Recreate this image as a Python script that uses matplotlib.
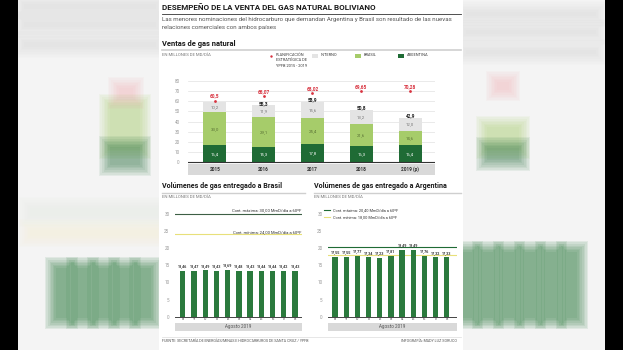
import numpy as np
import matplotlib.pyplot as plt
from matplotlib.patches import Rectangle

W, H = 623, 350

# --- datos ---
years = ['2015', '2016', '2017', '2018', '2019 (p)']
argentina = [16.4, 15.3, 17.8, 16.3, 16.4]
brasil = [33.0, 29.1, 25.4, 21.6, 14.6]
interno = [10.2, 11.9, 15.6, 13.2, 12.0]
totales = [None, 55.3, 58.9, 50.8, 42.9]
planificacion = [60.5, 65.07, 68.02, 69.65, 70.28]

dias = [8, 9, 10, 11, 12, 13, 14, 15, 16, 17, 18]
vol_brasil = [13.46, 13.47, 13.49, 13.43, 13.69, 13.48, 13.43, 13.44, 13.44, 13.42, 13.43]
vol_argentina = [17.55, 17.55, 17.77, 17.34, 17.23, 17.81, 19.49, 19.49, 17.76, 17.32, 17.33]
brasil_max, brasil_min = 30.0, 24.0
arg_max, arg_min = 20.4, 18.0

DARK = '#1f6b35'
LIGHT = '#a6cc6a'
GRAY = '#e4e4e4'
RED = '#d8323f'
BAR = '#2b7a3d'
YELLOW = '#e8e07a'
plt.rcParams['font.family'] = ['Roboto', 'DejaVu Sans']


def coma(v, d=1):
    return f"{v:.{d}f}".replace('.', ',')


def box(x0, y0, x1, y1):
    return [x0 / W, 1 - y1 / H, (x1 - x0) / W, (y1 - y0) / H]


fig = plt.figure(figsize=(W / 100, H / 100), dpi=100)
fig.patch.set_facecolor('#f4f4f4')

# fondo en coordenadas de pixel
bg = fig.add_axes([0, 0, 1, 1])
bg.set_xlim(0, W)
bg.set_ylim(H, 0)
bg.axis('off')


def soft(x, y, w, h, color, a=0.07, n=8, grow=1.6):
    for i in range(n):
        g = grow * (n - i)
        bg.add_patch(Rectangle((x - g + 1.5, y - g + 1.5), max(w + 2 * g - 3, 1),
                               max(h + 2 * g - 3, 1), color=color, alpha=a, lw=0))


# imitacion borrosa de los lados
for xx in [56, 77, 98, 119, 140]:
    soft(xx, 268, 11, 50, BAR, a=0.09)
for xx in [462, 483, 504, 525, 546, 567]:
    soft(xx, 252, 10, 66, BAR, a=0.09)
soft(110, 105, 30, 43, LIGHT)
soft(110, 147, 30, 18, DARK)
soft(487, 127, 32, 21, LIGHT)
soft(487, 148, 32, 12, DARK)
soft(119, 88, 14, 10, '#f2a0a5', a=0.05)
soft(497, 82, 12, 8, '#f2a0a5', a=0.05)
soft(30, 208, 128, 8, '#dfeedd', a=0.05)
soft(30, 230, 128, 6, '#f3f0c8', a=0.05)
for yy in [4, 22, 42]:
    soft(24, yy, 132, 5, '#bbbbbb', a=0.03)
    soft(466, yy + 8, 130, 4, '#bbbbbb', a=0.03)

bg.add_patch(Rectangle((0, 0), 18, H, color='black', lw=0))
bg.add_patch(Rectangle((605, 0), 18, H, color='black', lw=0))
bg.add_patch(Rectangle((159, 0), 304, H, color='white', lw=0))

# titulos y reglas
bg.text(162, 7.5, 'DESEMPEÑO DE LA VENTA DEL GAS NATURAL BOLIVIANO',
        fontsize=5.8, fontweight='bold', color='#1a1a1a', va='center')
bg.plot([162, 461], [13.5, 13.5], color='#333333', lw=0.6)
bg.text(162, 20, 'Las menores nominaciones del hidrocarburo que demandan Argentina y Brasil '
        'son resultado de las nuevas', fontsize=4.4, color='#555555', va='center')
bg.text(162, 28, 'relaciones comerciales con ambos países', fontsize=4.4,
        color='#555555', va='center')
bg.text(162, 44, 'Ventas de gas natural', fontsize=5.4, fontweight='bold',
        color='#1a1a1a', va='center')
bg.plot([162, 461], [49.5, 49.5], color='#cfcfcf', lw=1.2)
bg.text(162, 55, 'EN MILLONES DE MD/DÍA', fontsize=3.1, color='#777777', va='center')

# leyenda superior
bg.scatter([270.5], [55.5], s=3, color=RED, lw=0)
bg.text(275.5, 53, 'PLANIFICACIÓN\nESTRATÉGICA DE\nYPFB 2015 - 2019',
        fontsize=2.8, color='#333333', va='top', linespacing=1.45)
for x0, c, lab in [(312, GRAY, 'INTERNO'), (355, LIGHT, 'BRASIL'), (398, DARK, 'ARGENTINA')]:
    bg.add_patch(Rectangle((x0, 53.5), 6, 4, color=c, lw=0))
    bg.text(x0 + 8.5, 55.5, lab, fontsize=2.8, color='#333333', va='center')

# --- grafico superior ---
ax1 = fig.add_axes(box(188, 78, 435, 176))
ax1.patch.set_alpha(0)
x = np.arange(len(years))
a_ = np.array(argentina)
b_ = np.array(brasil)
i_ = np.array(interno)
bw = 0.47
ax1.bar(x, a_, width=bw, color=DARK, zorder=2)
ax1.bar(x, b_, bottom=a_, width=bw, color=LIGHT, zorder=2)
ax1.bar(x, i_, bottom=a_ + b_, width=bw, color=GRAY, zorder=2)
ax1.set_xlim(-0.55, 4.51)
ax1.set_ylim(-13.8, 82.96)
for v in range(10, 81, 10):
    ax1.axhline(v, color='#e2e2e2', lw=0.5, zorder=0)
ax1.axhline(0, color='#333333', lw=0.8, zorder=3)
ax1.set_yticks(range(0, 81, 10))
ax1.set_xticks([])
ax1.tick_params(axis='y', length=0, labelsize=3.3, labelcolor='#9a9a9a', pad=6)
for s in ax1.spines.values():
    s.set_visible(False)
ax1.add_patch(Rectangle((-0.55, -2.0), 5.06, -10.8, color='#d9d9d9', lw=0))
for k in range(len(years)):
    ax1.text(x[k], -7.4, years[k], ha='center', va='center', fontsize=3.4,
             fontweight='bold', color='#333333')
    ax1.text(x[k], a_[k] / 2, coma(a_[k]), ha='center', va='center',
             fontsize=3.2, color='white', zorder=4)
    ax1.text(x[k], a_[k] + b_[k] / 2, coma(b_[k]), ha='center', va='center',
             fontsize=3.2, color='#5b7336', zorder=4)
    ax1.text(x[k], a_[k] + b_[k] + i_[k] / 2, coma(i_[k]), ha='center', va='center',
             fontsize=3.2, color='#777777', zorder=4)
    if totales[k] is not None:
        ax1.text(x[k], totales[k] + 2.6, coma(totales[k]), ha='center', va='center',
                 fontsize=3.4, fontweight='bold', color='#222222', zorder=4)
    ax1.scatter(x[k], planificacion[k], s=4, color=RED, lw=0, zorder=5)
    ax1.text(x[k], planificacion[k] + 4.4, ('%g' % planificacion[k]).replace('.', ','),
             ha='center', va='center', fontsize=3.4, fontweight='bold', color=RED, zorder=5)


# --- graficos inferiores ---
def volumen(px, xlim, vals, vmax, vmin, color_max):
    ax = fig.add_axes(box(*px))
    ax.patch.set_alpha(0)
    xs = np.arange(len(dias))
    ax.bar(xs, vals, width=0.47, color=BAR, zorder=2)
    ax.set_xlim(*xlim)
    ax.set_ylim(-4.46, 32.6)
    ax.axhline(0, color='#444444', lw=0.7, zorder=3)
    ax.axhline(vmax, color=color_max, lw=0.8, zorder=1)
    ax.axhline(vmin, color=YELLOW, lw=0.8, zorder=1)
    ax.set_yticks(range(0, 31, 5))
    ax.set_xticks([])
    ax.tick_params(axis='y', length=0, labelsize=3.3, labelcolor='#9a9a9a', pad=4)
    for s in ax.spines.values():
        s.set_visible(False)
    ax.add_patch(Rectangle((xlim[0], -1.93), xlim[1] - xlim[0], -2.16, color='#d9d9d9', lw=0))
    ax.text(np.mean(xlim), -3.0, 'Agosto 2019', ha='center', va='center',
            fontsize=3.3, color='#555555')
    for k, v in enumerate(vals):
        ax.text(xs[k], -0.8, str(dias[k]), ha='center', va='center',
                fontsize=2.9, color='#444444')
        ax.text(xs[k], v + 1.1, coma(v, 2), ha='center', va='center',
                fontsize=2.7, fontweight='bold', color='#333333', zorder=4)
    return ax


axb = volumen((175, 205, 302, 332), (-0.69, 10.62), vol_brasil, brasil_max, brasil_min,
              '#3d5f45')
axb.text(10.55, brasil_max + 1.1, 'Cont. máxima: ' + coma(brasil_max, 2) + ' MmD/día a 60ºF',
         ha='right', va='center', fontsize=3.0, color='#333333')
axb.text(10.55, brasil_min + 0.8, 'Cont. mínima: ' + coma(brasil_min, 2) + ' MmD/día a 60ºF',
         ha='right', va='center', fontsize=3.0, color='#333333')

axa = volumen((328, 205, 457, 332), (-0.63, 10.92), vol_argentina, arg_max, arg_min, DARK)
bg.plot([324, 330], [209.7, 209.7], color=DARK, lw=0.8)
bg.plot([324, 330], [216.7, 216.7], color=YELLOW, lw=0.8)
bg.text(333, 209.7, 'Cont. máxima: ' + coma(arg_max, 2) + ' MmD/día a 60ºF', va='center',
        fontsize=2.8, color='#333333')
bg.text(333, 216.7, 'Cont. mínima: ' + coma(arg_min, 2) + ' MmD/día a 60ºF', va='center',
        fontsize=2.8, color='#333333')

bg.text(162, 186, 'Volúmenes de gas entregado a Brasil', fontsize=5.1,
        fontweight='bold', color='#1a1a1a', va='center')
bg.plot([162, 305], [192.5, 192.5], color='#cfcfcf', lw=1.0)
bg.text(162, 196.5, 'EN MILLONES DE MD/DÍA', fontsize=3.1, color='#777777', va='center')
bg.text(314, 186, 'Volúmenes de gas entregado a Argentina', fontsize=5.1,
        fontweight='bold', color='#1a1a1a', va='center')
bg.plot([314, 461], [192.5, 192.5], color='#cfcfcf', lw=1.0)
bg.text(314, 196.5, 'EN MILLONES DE MD/DÍA', fontsize=3.1, color='#777777', va='center')

bg.plot([162, 461], [336.5, 336.5], color='#dddddd', lw=0.5)
bg.text(162, 341, 'FUENTE: SECRETARÍA DE ENERGÍAS/MINAS E HIDROCARBUROS DE SANTA CRUZ / YPFB',
        fontsize=2.7, color='#555555', va='center')
bg.text(457, 341, 'INFOGRAFÍA: MADY LUZ SORUCO', fontsize=2.7,
        color='#555555', va='center', ha='right')

fig.savefig('out.png', dpi=100, facecolor=fig.get_facecolor())
